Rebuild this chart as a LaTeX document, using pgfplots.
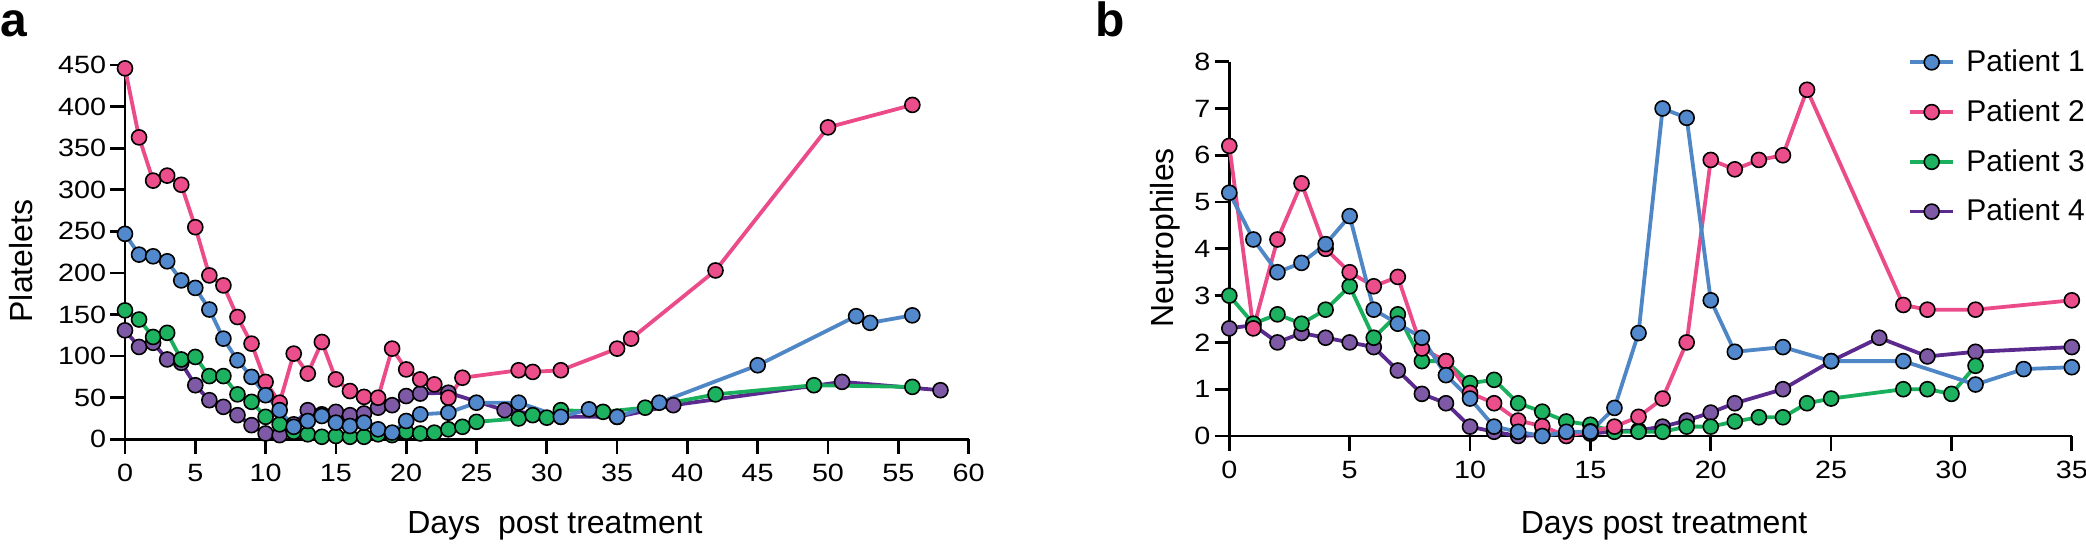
\documentclass[border=0pt]{standalone}
\usepackage{fontspec}
\setmainfont{Liberation Sans}
\newfontfamily\tickfont[FakeStretch=1.15]{Liberation Sans}
\usepackage{pgfplots}
\pgfplotsset{compat=1.18}
\definecolor{c1line}{RGB}{79,134,198}
\definecolor{c1fill}{RGB}{82,137,205}
\definecolor{c2line}{RGB}{236,75,138}
\definecolor{c2fill}{RGB}{236,78,140}
\definecolor{c3line}{RGB}{26,175,92}
\definecolor{c3fill}{RGB}{28,178,95}
\definecolor{c4line}{RGB}{91,42,142}
\definecolor{c4fill}{RGB}{126,90,166}
\pgfplotsset{
  prism/.style={
    scale only axis, clip=false,
    axis x line*=bottom, axis y line*=left,
    axis line style={line width=1.35pt, black},
    tick align=outside, major tick length=7.3pt,
    tick style={line width=1.35pt, black},
    /pgf/number format/assume math mode=true,
    tick label style={font=\tickfont\fontsize{12.5}{14}\selectfont},
    yticklabel style={inner xsep=2pt},
    xticklabel style={inner ysep=5pt},
    minor tick num=0,
  },
  p1/.style={color=c1line, line width=1.9pt, mark=*, mark size=3.75pt, mark options={fill=c1fill, draw=black, line width=0.8pt, solid}},
  p2/.style={color=c2line, line width=1.9pt, mark=*, mark size=3.75pt, mark options={fill=c2fill, draw=black, line width=0.8pt, solid}},
  p3/.style={color=c3line, line width=1.9pt, mark=*, mark size=3.75pt, mark options={fill=c3fill, draw=black, line width=0.8pt, solid}},
  p4/.style={color=c4line, line width=1.9pt, mark=*, mark size=3.75pt, mark options={fill=c4fill, draw=black, line width=0.8pt, solid}},
}
\begin{document}
\begin{tikzpicture}
\path[use as bounding box] (0pt,0pt) rectangle (1043pt,272pt);
% ---------------- panel a
\begin{axis}[prism,
  at={(62.5pt,52.35pt)}, anchor=south west,
  width=421.8pt, height=187.15pt,
  xmin=0, xmax=60, ymin=0, ymax=450,
  xtick={0,5,...,60}, ytick={0,50,...,450},
  every axis x label/.style={at={(axis description cs:0.5097,-0.2514)}, anchor=base, font=\fontsize{16}{18}\selectfont},
  every axis y label/.style={at={(axis description cs:-0.1099,0.4764)}, rotate=90, anchor=base, font=\fontsize{16}{18}\selectfont},
  xlabel={Days\ \ post treatment}, ylabel={Platelets},
]
\addplot[p4] coordinates {(0,131)(1,111)(2,116)(3,96)(4,92)(5,65)(6,47)(7,39)(8,29)(9,17)(10,7)(11,5)(12,18)(13,35)(14,30)(15,33)(16,29)(17,31)(18,38)(19,41)(20,52)(21,55)(23,56)(27,35)(31,27)(35,27)(39,41)(51,69)(58,59)};
\addplot[p3] coordinates {(0,155)(1,144)(2,123)(3,128)(4,96)(5,99)(6,76)(7,76)(8,54)(9,45)(10,27)(11,18)(12,9)(13,6)(14,3)(15,4)(16,3)(17,3)(18,6)(19,5)(20,9)(21,7)(22,8)(23,12)(24,15)(25,21)(28,25)(29,29)(30,26)(31,35)(34,33)(37,38)(42,54)(49,65)(56,63)};
\addplot[p2] coordinates {(0,446)(1,363)(2,311)(3,317)(4,306)(5,255)(6,197)(7,185)(8,147)(9,115)(10,69)(11,44)(12,103)(13,79)(14,117)(15,72)(16,58)(17,51)(18,50)(19,109)(20,84)(21,72)(22,66)(23,50)(24,74)(28,83)(29,81)(31,83)(35,109)(36,121)(42,203)(50,375)(56,402)};
\addplot[p1] coordinates {(0,247)(1,222)(2,220)(3,214)(4,191)(5,182)(6,156)(7,121)(8,95)(9,75)(10,53)(11,35)(12,15)(13,22)(14,28)(15,20)(16,16)(17,20)(18,12)(19,8)(20,22)(21,30)(23,32)(25,44)(28,44)(31,27)(33,36)(35,27)(38,44)(45,89)(52,148)(53,140)(56,149)};
\end{axis}
% ---------------- panel b
\begin{axis}[prism,
  at={(614.65pt,54pt)}, anchor=south west,
  width=421.25pt, height=187.15pt,
  xmin=0, xmax=35, ymin=0, ymax=8,
  xtick={0,5,...,35}, ytick={0,1,...,8},
  every axis x label/.style={at={(axis description cs:0.516,-0.2602)}, anchor=base, font=\fontsize{16}{18}\selectfont},
  every axis y label/.style={at={(axis description cs:-0.0668,0.529)}, rotate=90, anchor=base, font=\fontsize{16}{18}\selectfont},
  xlabel={Days post treatment}, ylabel={Neutrophiles},
  reverse legend,
  legend image code/.code={\draw[mark repeat=2,mark phase=2,#1] plot coordinates {(0pt,0pt) (10.85pt,0pt) (21.7pt,0pt)};},
  legend cell align=left,
  legend style={at={(0.8052,1.043)}, anchor=north west, draw=none, fill=none, inner sep=0pt,
    font=\fontsize{15}{17}\selectfont, row sep=8.5pt, column sep=3.5pt},
]
\addplot[p4] coordinates {(0,2.3)(1,2.37)(2,2.0)(3,2.2)(4,2.1)(5,2.0)(6,1.9)(7,1.4)(8,0.9)(9,0.7)(10,0.2)(11,0.09)(12,0.0)(13,0.02)(14,0.05)(15,0.05)(16,0.1)(17,0.12)(18,0.2)(19,0.33)(20,0.5)(21,0.7)(23,1.0)(25,1.6)(27,2.1)(29,1.7)(31,1.8)(35,1.9)};
\addlegendentry{Patient 4}
\addplot[p3] coordinates {(0,3.0)(1,2.4)(2,2.6)(3,2.4)(4,2.7)(5,3.2)(6,2.1)(7,2.6)(8,1.6)(9,1.6)(10,1.13)(11,1.2)(12,0.7)(13,0.52)(14,0.31)(15,0.24)(16,0.09)(17,0.09)(18,0.09)(19,0.2)(20,0.2)(21,0.31)(22,0.4)(23,0.4)(24,0.7)(25,0.8)(28,1.0)(29,1.0)(30,0.9)(31,1.5)};
\addlegendentry{Patient 3}
\addplot[p2] coordinates {(0,6.2)(1,2.3)(2,4.2)(3,5.4)(4,4.0)(5,3.5)(6,3.2)(7,3.4)(8,1.87)(9,1.6)(10,0.92)(11,0.7)(12,0.33)(13,0.21)(14,0.0)(15,0.1)(16,0.2)(17,0.41)(18,0.8)(19,2.0)(20,5.9)(21,5.7)(22,5.9)(23,6.0)(24,7.4)(28,2.8)(29,2.7)(31,2.7)(35,2.9)};
\addlegendentry{Patient 2}
\addplot[p1] coordinates {(0,5.2)(1,4.2)(2,3.5)(3,3.7)(4,4.1)(5,4.7)(6,2.7)(7,2.4)(8,2.1)(9,1.3)(10,0.8)(11,0.2)(12,0.09)(13,0.0)(14,0.09)(15,0.09)(16,0.6)(17,2.2)(18,7.0)(19,6.8)(20,2.9)(21,1.8)(23,1.9)(25,1.6)(28,1.6)(31,1.1)(33,1.43)(35,1.47)};
\addlegendentry{Patient 1}
\end{axis}
\node[anchor=base west, inner sep=0pt, font=\bfseries\fontsize{24}{24}\selectfont] at (0pt,253.5pt) {a};
\node[anchor=base west, inner sep=0pt, font=\bfseries\fontsize{24}{24}\selectfont] at (547.5pt,253.5pt) {b};
\end{tikzpicture}
\end{document}
